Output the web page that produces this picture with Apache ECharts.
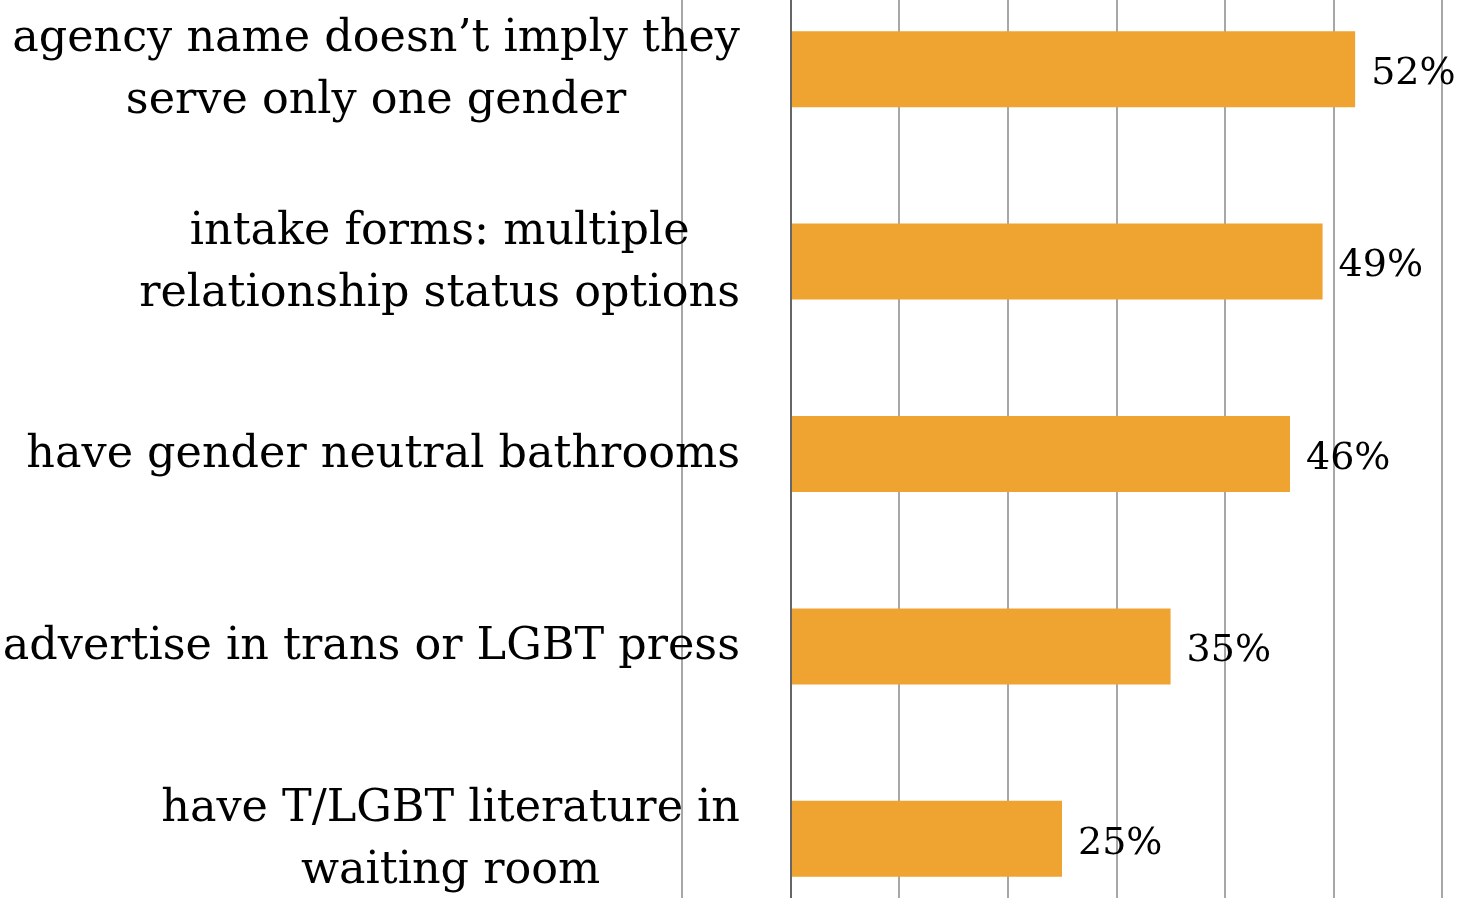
<!DOCTYPE html>
<html>
  <head>
    <meta charset="utf-8" />
    <script src="https://cdn.jsdelivr.net/npm/echarts@6.0.0/dist/echarts.min.js"></script>
    <style>
      html, body { margin: 0; padding: 0; background: #fff; }
    </style>
  </head>
  <body>
    <div id="main" style="width: 1461px;height:898px;"></div>
    <script type="text/javascript">
      // categories top to bottom
      var categories = [
        'agency name doesn\u2019t imply they\nserve only one gender',
        'intake forms: multiple\nrelationship status options',
        'have gender neutral bathrooms',
        'advertise in trans or LGBT press',
        'have T/LGBT literature in\nwaiting room'
      ];
      var values = [52, 49, 46, 35, 25];
      var xMin = -10, xMax = 60, xStep = 10;

      var font = 'DejaVu Serif';
      var myChart = echarts.init(document.getElementById('main'));
      var option = {
        animation: false,
        grid: {
          left: 682,
          right: 19,
          top: -27,
          height: 962,
          containLabel: false,
          outerBoundsMode: 'none'
        },
        xAxis: {
          type: 'value',
          min: xMin,
          max: xMax,
          interval: xStep,
          axisLabel: { show: false },
          axisLine: { show: false },
          axisTick: { show: false },
          splitLine: { lineStyle: { color: '#8a8a8a', width: 1.5 } }
        },
        yAxis: {
          type: 'category',
          inverse: true,
          data: categories,
          z: 3,
          axisLine: { onZero: true, lineStyle: { color: '#666', width: 2 } },
          axisTick: { show: false },
          axisLabel: {
            margin: -58,
            fontFamily: font,
            fontSize: 44.5,
            lineHeight: 62,
            color: '#000',
            formatter: function (v) {
              return v.split('\n').map(function (s) { return '{c|' + s + '}'; }).join('\n');
            },
            rich: {
              c: { align: 'center', fontFamily: font, fontSize: 44.5, lineHeight: 62, color: '#000', padding: [3, 0, 0, 0] }
            }
          }
        },
        series: [
          {
            type: 'bar',
            data: values,
            barWidth: 76,
            itemStyle: { color: '#EFA331' },
            label: {
              show: true,
              position: 'right',
              distance: 16,
              offset: [0, 5],
              formatter: '{c}%',
              fontFamily: font,
              fontSize: 38,
              color: '#000'
            }
          }
        ]
      };
      myChart.setOption(option);
    </script>
  </body>
</html>
